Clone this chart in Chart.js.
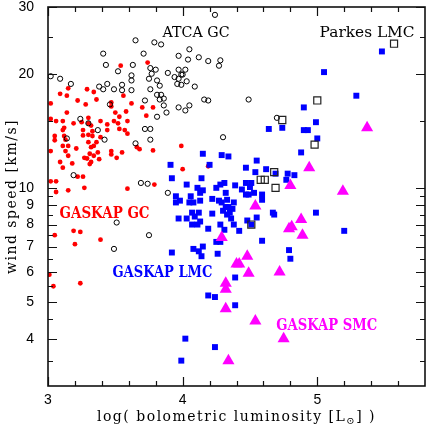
<!DOCTYPE html>
<html>
<head>
<meta charset="utf-8">
<script src="https://cdn.jsdelivr.net/npm/chart.js@4.4.0/dist/chart.umd.min.js"></script>
<style>
  html, body { margin: 0; padding: 0; background: #fff; }
  #wrap { width: 432px; height: 428px; }
</style>
</head>
<body>
<div id="wrap"><canvas id="chart" width="432" height="428"></canvas></div>
<script>
// [log L_bol, wind speed km/s]
const gaskapGc = [
  [3.54,21.0],[3.74,21.4],[3.15,18.3],[3.09,17.7],[3.14,17.5],[3.29,18.2],[3.34,17.9],[3.02,16.7],[3.22,17.0],[3.28,16.6],
  [3.36,17.1],[3.47,16.8],[3.56,17.5],[3.62,16.7],[3.70,16.3],[3.78,16.3],[3.14,15.8],[3.02,15.2],[3.06,15.0],[3.11,15.0],
  [3.12,14.4],[3.11,14.2],[3.19,14.8],[3.25,14.9],[3.30,15.3],[3.30,14.8],[3.26,14.2],[3.32,14.6],[3.33,14.1],[3.39,15.0],
  [3.44,14.7],[3.44,14.2],[3.50,15.8],[3.49,15.0],[3.53,15.4],[3.52,14.8],[3.53,14.3],[3.58,15.9],[3.59,15.0],[3.57,14.2],
  [3.47,16.4],[3.73,15.5],
  [3.05,13.7],[3.12,13.7],[3.05,13.35],[3.13,13.4],[3.26,13.75],[3.30,13.8],[3.33,13.7],[3.39,13.6],[3.59,13.9],[3.11,12.9],
  [3.15,12.9],[3.21,12.7],[3.30,13.2],[3.32,12.8],[3.34,12.9],[3.36,13.2],[3.37,12.4],[3.31,12.3],[3.47,12.5],[3.47,12.25],
  [3.51,12.0],[3.55,12.4],[3.66,12.8],[3.68,12.65],[3.78,12.55],[3.02,12.5],[3.13,12.5],[3.15,12.15],[3.27,12.0],[3.29,11.95],
  [3.34,12.15],[3.38,11.9],[3.32,11.7],[3.31,11.55],[3.09,11.7],[3.11,11.3],[3.18,11.6],[3.02,10.4],[3.06,10.4],[3.22,10.7],
  [3.26,10.7],[3.06,9.75],[3.15,9.85],[3.27,10.0],[3.59,9.95],[3.79,10.2],[3.19,7.7],[3.24,7.65],[3.05,7.5],[3.20,7.1],
  [3.39,7.3],[3.01,5.9],[3.04,5.5],[3.24,5.6],[3.99,12.9],[4.00,11.2],[4.19,11.4]
];

const atcaGc = [
  [3.02,19.7],[3.09,19.4],[3.17,18.8],[3.38,18.5],[3.41,22.6],[3.43,21.1],[3.52,20.3],[3.44,18.8],[3.41,18.2],[3.49,18.2],
  [3.55,18.7],[3.55,18.1],[3.62,19.8],[3.62,19.2],[3.62,18.1],[3.63,21.1],[3.65,24.5],[3.71,22.6],[3.76,20.7],[3.77,20.0],
  [3.80,20.5],[3.79,24.2],[3.84,23.9],[3.75,19.4],[3.76,18.2],[3.81,19.2],[3.83,18.6],[3.81,17.6],[3.84,17.6],[3.83,17.1],
  [3.86,17.2],[3.86,16.5],[3.72,17.0],[3.88,15.8],[3.81,15.4],[3.89,20.1],[3.94,19.6],[3.97,20.5],[3.97,19.4],[3.99,19.9],
  [4.00,19.9],[4.02,20.5],[4.03,19.1],[3.96,18.8],[3.99,18.7],[3.97,22.3],[4.05,23.2],[4.04,21.8],[4.12,22.1],[4.19,21.6],
  [4.09,18.5],[3.97,16.3],[4.02,16.0],[4.05,16.5],[4.16,17.1],[4.19,17.0],[3.24,15.2],[3.30,14.8],[3.37,14.2],[3.42,13.4],
  [3.14,13.5],[3.72,14.3],[3.76,14.3],[3.76,13.4],[3.65,13.1],[3.46,16.6],[3.19,10.8],[3.69,10.3],[3.74,10.25],[3.89,9.7],
  [4.24,28.6],[4.28,21.7],[4.27,21.0],[4.49,17.1],[4.70,15.3],[4.30,13.6],[3.51,8.1],[3.75,7.5],[3.49,6.9]
];

const gaskapLmc = [
  [5.48,22.9],[5.05,20.2],[5.29,17.5],[4.90,16.3],[4.64,14.3],[4.74,14.4],[4.90,14.2],[4.93,14.2],[4.99,14.9],[5.00,13.5],
  [4.88,12.4],[4.29,12.2],[4.34,12.1],[4.47,11.3],[4.55,11.8],[4.54,11.0],[4.62,11.2],[4.69,10.9],[4.78,10.9],[4.83,10.8],
  [4.77,10.5],[4.28,10.2],[4.31,10.3],[4.39,10.15],[4.47,10.3],[4.51,10.3],[4.44,9.9],[4.47,9.6],[4.49,9.6],[4.53,9.7],
  [4.59,9.6],[4.59,9.3],[4.32,9.7],[4.27,9.25],[4.33,9.3],[4.38,9.15],[4.67,8.6],[4.68,8.5],[4.99,8.6],[5.20,7.7],
  [4.15,12.3],[3.91,11.5],[3.92,10.6],[4.03,10.2],[4.11,10.0],[4.13,9.7],[4.06,9.5],[3.98,9.25],[3.95,9.15],[4.08,9.15],
  [4.13,9.25],[4.20,11.5],[4.14,10.6],[4.25,10.0],[4.50,10.05],[4.15,9.85],[3.95,9.5],[4.05,9.15],[4.22,9.35],[4.29,9.15],
  [4.32,8.9],[4.30,8.7],[4.34,8.9],[4.35,8.6],[4.33,8.5],[4.37,8.8],[4.07,8.6],[4.12,8.6],[4.22,8.55],[3.97,8.3],
  [4.03,8.3],[4.09,8.4],[4.07,8.0],[4.11,8.0],[4.13,8.15],[4.19,7.8],[4.08,6.9],[4.12,6.8],[4.15,7.0],[4.14,6.6],
  [4.36,8.3],[4.31,7.75],[4.28,8.0],[4.38,8.0],[4.42,7.7],[4.48,8.2],[4.55,8.35],[4.51,8.0],[4.59,7.25],[4.25,7.2],
  [4.28,7.2],[4.26,6.7],[4.79,6.85],[4.80,6.5],[4.39,5.8],[4.24,5.15],[4.39,4.9],[4.24,3.8],[4.19,5.2],[4.02,4.0],
  [3.99,3.5],[3.92,6.75]
];

const gaskapSmc = [
  [5.37,14.4],[4.94,11.3],[4.80,10.15],[5.19,9.8],[4.54,8.95],[4.79,7.8],[4.81,7.9],[4.29,7.4],[4.48,6.6],[4.88,8.25],
  [4.89,7.5],[4.40,6.3],[4.42,6.3],[4.49,5.95],[4.72,6.0],[4.32,5.6],[4.32,5.4],[4.32,4.8],[4.54,4.45],[4.75,4.0],
  [4.34,3.5]
];

const parkesLmc = [
  [5.57,24.0],[5.00,17.0],[4.74,15.1],[4.98,13.0],[4.68,11.0],[4.58,10.5],[4.61,10.5],[4.69,10.0],[4.51,8.0]
];

const xTickValues = [3, 3.2, 3.4, 3.6, 3.8, 4, 4.2, 4.4, 4.6, 4.8, 5, 5.2, 5.4, 5.6];
const xLabelValues = [3, 4, 5];
const yTickValues = [3.5, 4, 4.5, 5, 5.5, 6, 6.5, 7, 7.5, 8, 8.5, 9, 9.5, 10, 15, 20, 25, 30];
const yLabelValues = [4, 5, 6, 7, 8, 9, 10, 20, 30];

// group names written inside the plot
const notes = [
  { text: 'ATCA GC',    x: 4.10, y: 25.0, color: '#000000', bold: false, size: 15, width: 67 },
  { text: 'Parkes LMC', x: 5.37, y: 25.0, color: '#000000', bold: false, size: 15, width: 95 },
  { text: 'GASKAP GC',  x: 3.42, y: 8.35, color: '#ff0000', bold: true,  size: 16, width: 90 },
  { text: 'GASKAP LMC', x: 3.85, y: 5.8,  color: '#0000ff', bold: true,  size: 16, width: 100 },
  { text: 'GASKAP SMC', x: 5.07, y: 4.22, color: '#ff00ff', bold: true,  size: 16, width: 101 }
];

const pts = arr => arr.map(([x, y]) => ({ x, y }));
const serif = '"DejaVu Serif", "Liberation Serif", serif';

function spaced(ctx, px) {
  if ('letterSpacing' in ctx) ctx.letterSpacing = px + 'px';
}

const frameAndText = {
  id: 'frameAndText',
  afterDatasetsDraw(chart) {
    const { ctx, chartArea: a, scales: { x, y } } = chart;
    ctx.save();

    // inward tick marks on all four sides
    ctx.strokeStyle = '#111';
    ctx.lineWidth = 1.2;
    ctx.beginPath();
    xTickValues.forEach(v => {
      const px = Math.round(x.getPixelForValue(v)) + 0.5;
      const len = xLabelValues.includes(v) ? 9 : 5;
      ctx.moveTo(px, a.bottom); ctx.lineTo(px, a.bottom - len);
      ctx.moveTo(px, a.top); ctx.lineTo(px, a.top + len);
    });
    yTickValues.forEach(v => {
      const py = Math.round(y.getPixelForValue(v)) + 0.5;
      const len = yLabelValues.includes(v) ? 9 : 5;
      ctx.moveTo(a.left, py); ctx.lineTo(a.left + len, py);
      ctx.moveTo(a.right, py); ctx.lineTo(a.right - len, py);
    });
    ctx.stroke();

    ctx.lineWidth = 1.6;
    ctx.strokeStyle = '#111';
    ctx.strokeRect(a.left, a.top, a.right - a.left, a.bottom - a.top);

    // labels inside the plot
    ctx.textAlign = 'center';
    ctx.textBaseline = 'alphabetic';
    notes.forEach(n => {
      ctx.font = (n.bold ? 'bold ' : '') + n.size + 'px ' + serif;
      ctx.fillStyle = n.color;
      const w = ctx.measureText(n.text).width;
      ctx.save();
      ctx.translate(x.getPixelForValue(n.x), y.getPixelForValue(n.y));
      ctx.scale(n.width / w, 1);
      ctx.fillText(n.text, 0, 0);
      ctx.restore();
    });

    // axis titles
    ctx.fillStyle = '#000';
    ctx.font = '14px ' + serif;
    spaced(ctx, 1.5);

    ctx.save();
    ctx.translate(16, (a.top + a.bottom) / 2);
    ctx.rotate(-Math.PI / 2);
    ctx.textAlign = 'center';
    ctx.fillText('wind speed [km/s]', 0, 0);
    ctx.restore();

    const parts = [
      { t: 'log( bolometric luminosity [L', size: 14, dy: 0 },
      { t: '\u2299', size: 10, dy: 3 },
      { t: '] )', size: 14, dy: 0 }
    ];
    let total = 0;
    parts.forEach(p => { ctx.font = p.size + 'px ' + serif; p.w = ctx.measureText(p.t).width; total += p.w; });
    let cx = (a.left + a.right) / 2 - total / 2;
    ctx.textAlign = 'left';
    parts.forEach(p => {
      ctx.font = p.size + 'px ' + serif;
      ctx.fillText(p.t, cx, 421 + p.dy);
      cx += p.w;
    });

    ctx.restore();
  }
};

new Chart(document.getElementById('chart'), {
  type: 'scatter',
  data: {
    datasets: [
      { label: 'Parkes LMC', data: pts(parkesLmc), pointStyle: 'rect', pointRadius: 5,
        backgroundColor: 'rgba(255,255,255,0)', borderColor: '#222', borderWidth: 1.2 },
      { label: 'GASKAP SMC', data: pts(gaskapSmc), pointStyle: 'triangle', pointRadius: 7,
        backgroundColor: '#ff00ff', borderColor: '#ff00ff', borderWidth: 0 },
      { label: 'GASKAP LMC', data: pts(gaskapLmc), pointStyle: 'rect', pointRadius: 4.2,
        backgroundColor: '#0000ff', borderColor: '#0000ff', borderWidth: 0 },
      { label: 'ATCA GC', data: pts(atcaGc), pointStyle: 'circle', pointRadius: 2.6,
        backgroundColor: 'rgba(255,255,255,0)', borderColor: '#000', borderWidth: 1 },
      { label: 'GASKAP GC', data: pts(gaskapGc), pointStyle: 'circle', pointRadius: 2.4,
        backgroundColor: '#ff0000', borderColor: '#ff0000', borderWidth: 0 }
    ]
  },
  options: {
    responsive: false,
    devicePixelRatio: 1,
    animation: false,
    events: [],
    layout: { padding: { top: 4, right: 1, left: 0, bottom: 0 } },
    plugins: { legend: { display: false }, tooltip: { enabled: false } },
    scales: {
      x: {
        type: 'linear', min: 3, max: 5.8,
        afterFit: s => { s.height = 42; s.paddingLeft = 0; s.paddingRight = 0; },
        afterBuildTicks: s => { s.ticks = xTickValues.map(v => ({ value: v })); },
        grid: { display: false },
        border: { display: false },
        ticks: {
          autoSkip: false, maxRotation: 0, padding: -2, color: '#000',
          font: { family: '"Liberation Sans", sans-serif', size: 14 },
          callback: v => xLabelValues.includes(v) ? String(v) : ''
        }
      },
      y: {
        type: 'logarithmic', min: 3, max: 30,
        afterFit: s => { s.width = 48; s.paddingTop = 0; s.paddingBottom = 0; },
        afterBuildTicks: s => { s.ticks = yTickValues.map(v => ({ value: v })); },
        grid: { display: false },
        border: { display: false },
        ticks: {
          autoSkip: false, padding: 6, color: '#000',
          font: { family: '"Liberation Sans", sans-serif', size: 14 },
          callback: v => yLabelValues.includes(v) ? String(v) : ''
        }
      }
    }
  },
  plugins: [frameAndText]
});
</script>
</body>
</html>
